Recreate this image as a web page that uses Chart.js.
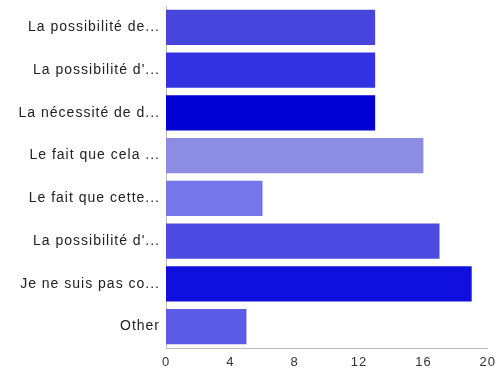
<!DOCTYPE html>
<html>
<head>
<meta charset="utf-8">
<script src="https://cdn.jsdelivr.net/npm/chart.js@4/dist/chart.umd.min.js"></script>
<style>
  html, body { margin: 0; padding: 0; background: #fff; }
  #wrap { width: 497px; height: 374px; position: relative; }
</style>
</head>
<body>
<div id="wrap"><canvas id="chart"></canvas></div>
<script>
var categories = [
    "La possibilité de...",
    "La possibilité d'...",
    "La nécessité de d...",
    "Le fait que cela ...",
    "Le fait que cette...",
    "La possibilité d'...",
    "Je ne suis pas co...",
    "Other"
]
var counts = [13, 13, 13, 16, 6, 17, 19, 5]
var barColors = ['#4646dc', '#3232e2', '#0000d2', '#8c8ce2', '#7676ea', '#4c4ce2', '#1010de', '#5c5ce8']
var xTicks = [0, 4, 8, 12, 16, 20]

var ctx = document.getElementById('chart')

// the labels in the picture are drawn wide, so space the letters out a bit
var wideText = {
    id: 'wideText',
    beforeDraw: function (chart) { chart.ctx.letterSpacing = '1px' }
}

var responsesChart = new Chart(ctx, {
    type: 'bar',
    data: {
        labels: categories,
        datasets: [{
            data: counts,
            backgroundColor: barColors,
            borderWidth: 0,
            barPercentage: 0.82,
            categoryPercentage: 1.0
        }]
    },
    options: {
        indexAxis: 'y',
        responsive: true,
        maintainAspectRatio: false,
        animation: false,
        layout: { padding: { top: 6, right: 9, left: 0, bottom: 0 } },
        plugins: { legend: { display: false }, tooltip: { enabled: false } },
        scales: {
            x: {
                min: 0,
                max: 20,
                afterBuildTicks: function (axis) {
                    axis.ticks = xTicks.map(function (v) { return { value: v } })
                },
                grid: { display: false, drawTicks: true, tickLength: 5, color: '#bbb' },
                border: { color: '#bbb' },
                ticks: { color: '#333', font: { family: 'Liberation Sans', size: 13 }, padding: 2, maxRotation: 0 },
                afterFit: function (axis) { axis.height = 26 }
            },
            y: {
                grid: { display: false, drawTicks: false },
                border: { color: '#bbb' },
                ticks: { color: '#222', font: { family: 'Liberation Sans', size: 14 }, padding: 6 },
                afterFit: function (axis) {
                    axis.width = 166
                    axis.paddingTop = 0
                    axis.paddingBottom = 0
                }
            }
        }
    },
    plugins: [wideText]
})
</script>
</body>
</html>
